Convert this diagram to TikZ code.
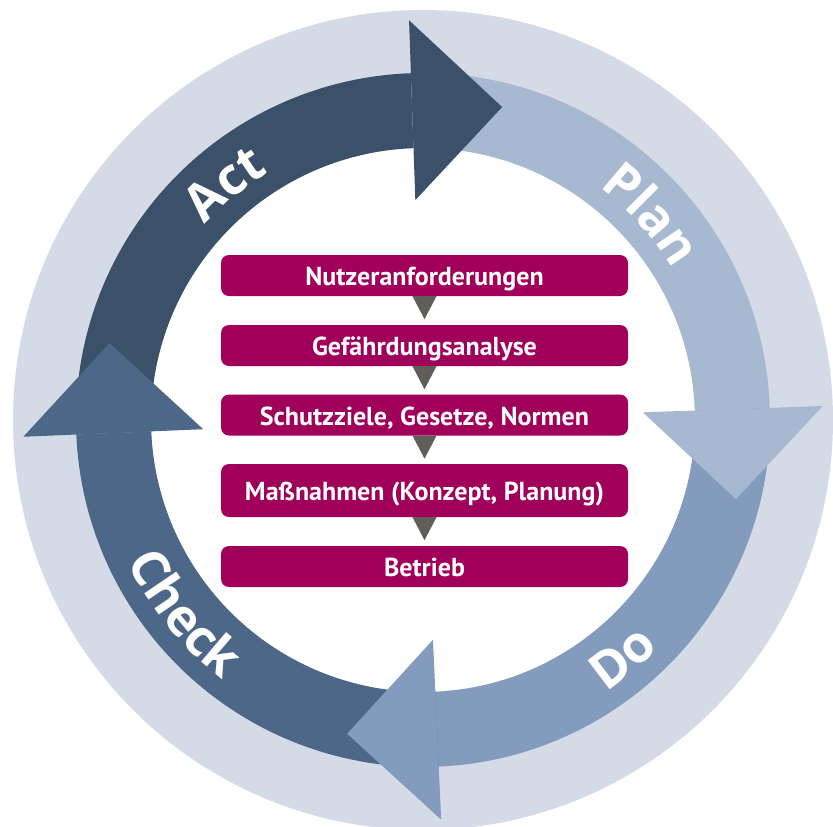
\documentclass[tikz,border=0pt]{standalone}
\usepackage{fontspec}
\setmainfont{PT Sans}
\newfontfamily\lblfamily{Open Sans}
\usetikzlibrary{decorations.text,calc}
\definecolor{bgc}{HTML}{D4DBE7}
\definecolor{actc}{HTML}{3B5069}
\definecolor{planc}{HTML}{A7B8D1}
\definecolor{doc}{HTML}{839BBC}
\definecolor{checkc}{HTML}{4D6789}
\definecolor{boxc}{HTML}{A0005A}
\definecolor{tric}{HTML}{5F5E57}
\newcommand\lblfont{\color{white}\lblfamily\fontsize{51}{51}\selectfont\bfseries}
\tikzset{
  stepbox/.style={fill=boxc, rounded corners=8pt, minimum width=407pt, minimum height=41pt,
    inner sep=0pt, text=white, text height=20pt, text depth=0pt,
    font=\fontsize{26}{26}\selectfont\bfseries},
  tri/.style={fill=tric},
}
\begin{document}
\begin{tikzpicture}[x=1pt,y=1pt]
\useasboundingbox (0,0) rectangle (833,-827);
\clip (0,0) rectangle (833,-827);
\fill[white] (0,0) rectangle (833,-827);
\begin{scope}[shift={(423,-420)}]
  \fill[bgc] (0,0) circle[radius=410];
  \fill[white] (0,0) circle[radius=272];
  % bodies
  \fill[actc] (182.4:347) arc[start angle=182.4, end angle=92, radius=347] -- (92:272) arc[start angle=92, end angle=182.4, radius=272] -- cycle;
  \fill[planc] (92:347) arc[start angle=92, end angle=2, radius=347] -- (2:272) arc[start angle=2, end angle=92, radius=272] -- cycle;
  \fill[doc] (2:347) arc[start angle=2, end angle=-87.4, radius=347] -- (-87.4:272) arc[start angle=-87.4, end angle=2, radius=272] -- cycle;
  \fill[checkc] (-87.4:347) arc[start angle=-87.4, end angle=-177.6, radius=347] -- (-177.6:272) arc[start angle=-177.6, end angle=-87.4, radius=272] -- cycle;
  % heads
  \fill[actc, rotate=2] (0,220) -- (0,400) -- (90,310) -- cycle;
  \fill[planc, rotate=-88] (0,220) -- (0,400) -- (90,310) -- cycle;
  \fill[doc, rotate=-177.4] (0,220) -- (0,400) -- (90,310) -- cycle;
  \fill[checkc, rotate=92.4] (0,220) -- (0,400) -- (90,310) -- cycle;
  % labels
  \path[decorate, decoration={text along path, text align={center}, text={|\lblfont|Act}}]
    (160:292) arc[start angle=160, end angle=100, radius=292];
  \path[decorate, decoration={text along path, text align={center}, text={|\lblfont|Plan}}]
    (72:292) arc[start angle=72, end angle=12, radius=292];
  \path[decorate, decoration={text along path, text align={center}, text={|\lblfont|Do}}]
    (-80:328) arc[start angle=-80, end angle=-20, radius=328];
  \path[decorate, decoration={text along path, text align={center}, text={|\lblfont|Check}}]
    (189:328) arc[start angle=189, end angle=249, radius=328];
\end{scope}
% step boxes
\node[stepbox] (b1) at (424.5,-275.5) {Nutzeranforderungen};
\node[stepbox] (b2) at (424.5,-345.5) {Gefährdungsanalyse};
\node[stepbox] (b3) at (424.5,-415) {Schutzziele, Gesetze, Normen};
\node[stepbox, minimum height=53pt] (b4) at (424.5,-490.5) {Maßnahmen (Konzept, Planung)};
\node[stepbox] (b5) at (424.5,-566.5) {Betrieb};
\foreach \a in {b1,b2,b3,b4}{
  \fill[tri] ($(\a.south)+(-12,0)$) -- ($(\a.south)+(12,0)$) -- ($(\a.south)+(0,-23)$) -- cycle;
}
\end{tikzpicture}
\end{document}
